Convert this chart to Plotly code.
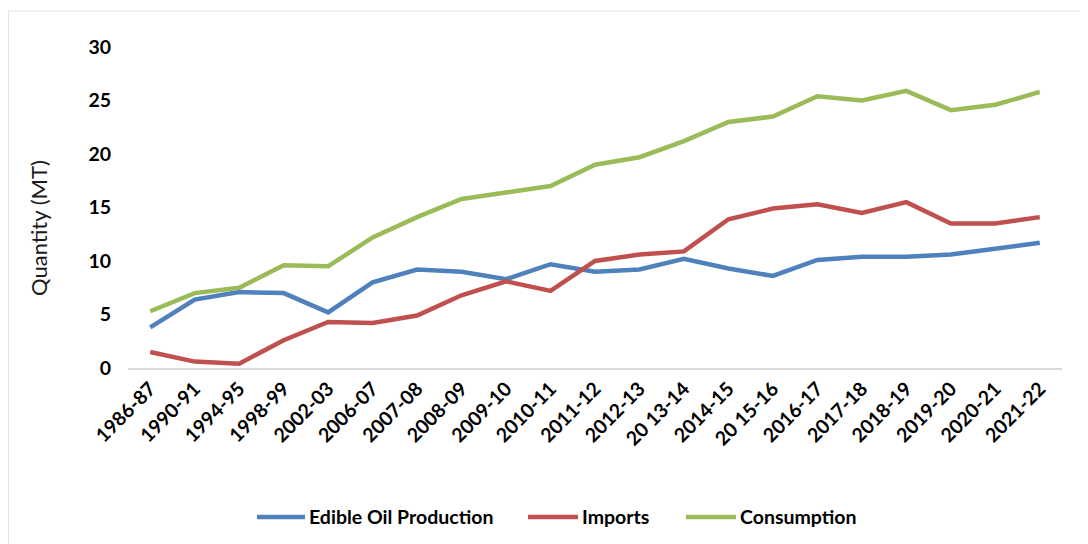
import plotly.graph_objects as go

years = ["1986-87", "1990-91", "1994-95", "1998-99", "2002-03", "2006-07", "2007-08",
         "2008-09", "2009-10", "2010-11", "2011-12", "2012-13", "20 13-14", "2014-15",
         "20 15-16", "2016-17", "2017-18", "2018-19", "2019-20", "2020-21", "2021-22"]
production = [3.8, 6.4, 7.1, 7.0, 5.2, 8.0, 9.2, 9.0, 8.3, 9.7, 9.0, 9.2, 10.2, 9.3,
              8.6, 10.1, 10.4, 10.4, 10.6, 11.1, 11.7]
imports = [1.5, 0.6, 0.4, 2.6, 4.3, 4.2, 4.9, 6.8, 8.1, 7.2, 10.0, 10.6, 10.9, 13.9,
           14.9, 15.3, 14.5, 15.5, 13.5, 13.5, 14.1]
consumption = [5.3, 7.0, 7.5, 9.6, 9.5, 12.2, 14.1, 15.8, 16.4, 17.0, 19.0, 19.7, 21.2,
               23.0, 23.5, 25.4, 25.0, 25.9, 24.1, 24.6, 25.8]

series = [("Edible Oil Production", production, "#4F81BD"),
          ("Imports", imports, "#C0504D"),
          ("Consumption", consumption, "#9BBB59")]

# manual legend placement (paper coords): line start, line end
legend_pos = [(0.1381, 0.1895), (0.4283, 0.4818), (0.5974, 0.6510)]
legend_y = -0.464

font_family = "Lato, Open Sans, sans-serif"

fig = go.Figure()
shapes = [
    dict(type="line", xref="paper", yref="paper", x0=-0.1282, x1=-0.1282, y0=-0.6, y1=1.112,
         line=dict(color="#E3E3E3", width=1.5)),
    dict(type="line", xref="paper", yref="paper", x0=-0.1282, x1=1.028, y0=1.112, y1=1.112,
         line=dict(color="#EFEFEF", width=1.5)),
]
annotations = [dict(text="Quantity (MT)", textangle=-90, xref="paper", yref="paper",
                    x=-0.0964, y=0.436, xanchor="center", yanchor="middle",
                    showarrow=False, font=dict(size=22, family=font_family, color="#1a1a1a"))]

for (name, vals, color), (lx0, lx1) in zip(series, legend_pos):
    fig.add_trace(go.Scatter(x=years, y=vals, name=name, mode="lines", showlegend=False,
                             line=dict(color=color, width=4.5)))
    shapes.append(dict(type="line", xref="paper", yref="paper", x0=lx0, x1=lx1,
                       y0=legend_y, y1=legend_y, line=dict(color=color, width=4.5)))
    annotations.append(dict(text=name, xref="paper", yref="paper", x=lx1 + 0.002,
                            y=legend_y, xanchor="left", yanchor="middle", showarrow=False,
                            font=dict(size=19.5, family=font_family, weight="bold")))

fig.update_layout(
    width=1080, height=536,
    margin=dict(l=120, r=26, t=39, b=176, autoexpand=False),
    paper_bgcolor="white", plot_bgcolor="white",
    font=dict(family=font_family, color="#000000"),
    showlegend=False,
    xaxis=dict(type="category", range=[-0.5, 20.5], tickangle=-45, automargin=False,
               tickfont=dict(size=19.5, family=font_family, weight="bold"),
               showgrid=False, showline=True, linecolor="#D9D9D9", linewidth=1.5,
               ticks="", zeroline=False),
    yaxis=dict(range=[0, 30], dtick=5, showgrid=False, zeroline=False, showline=False,
               automargin=False,
               tickfont=dict(size=19.5, family=font_family, weight="bold"),
               ticks="outside", ticklen=12, tickcolor="rgba(0,0,0,0)"),
    annotations=annotations,
    shapes=shapes,
)

fig.write_html("out.html")
